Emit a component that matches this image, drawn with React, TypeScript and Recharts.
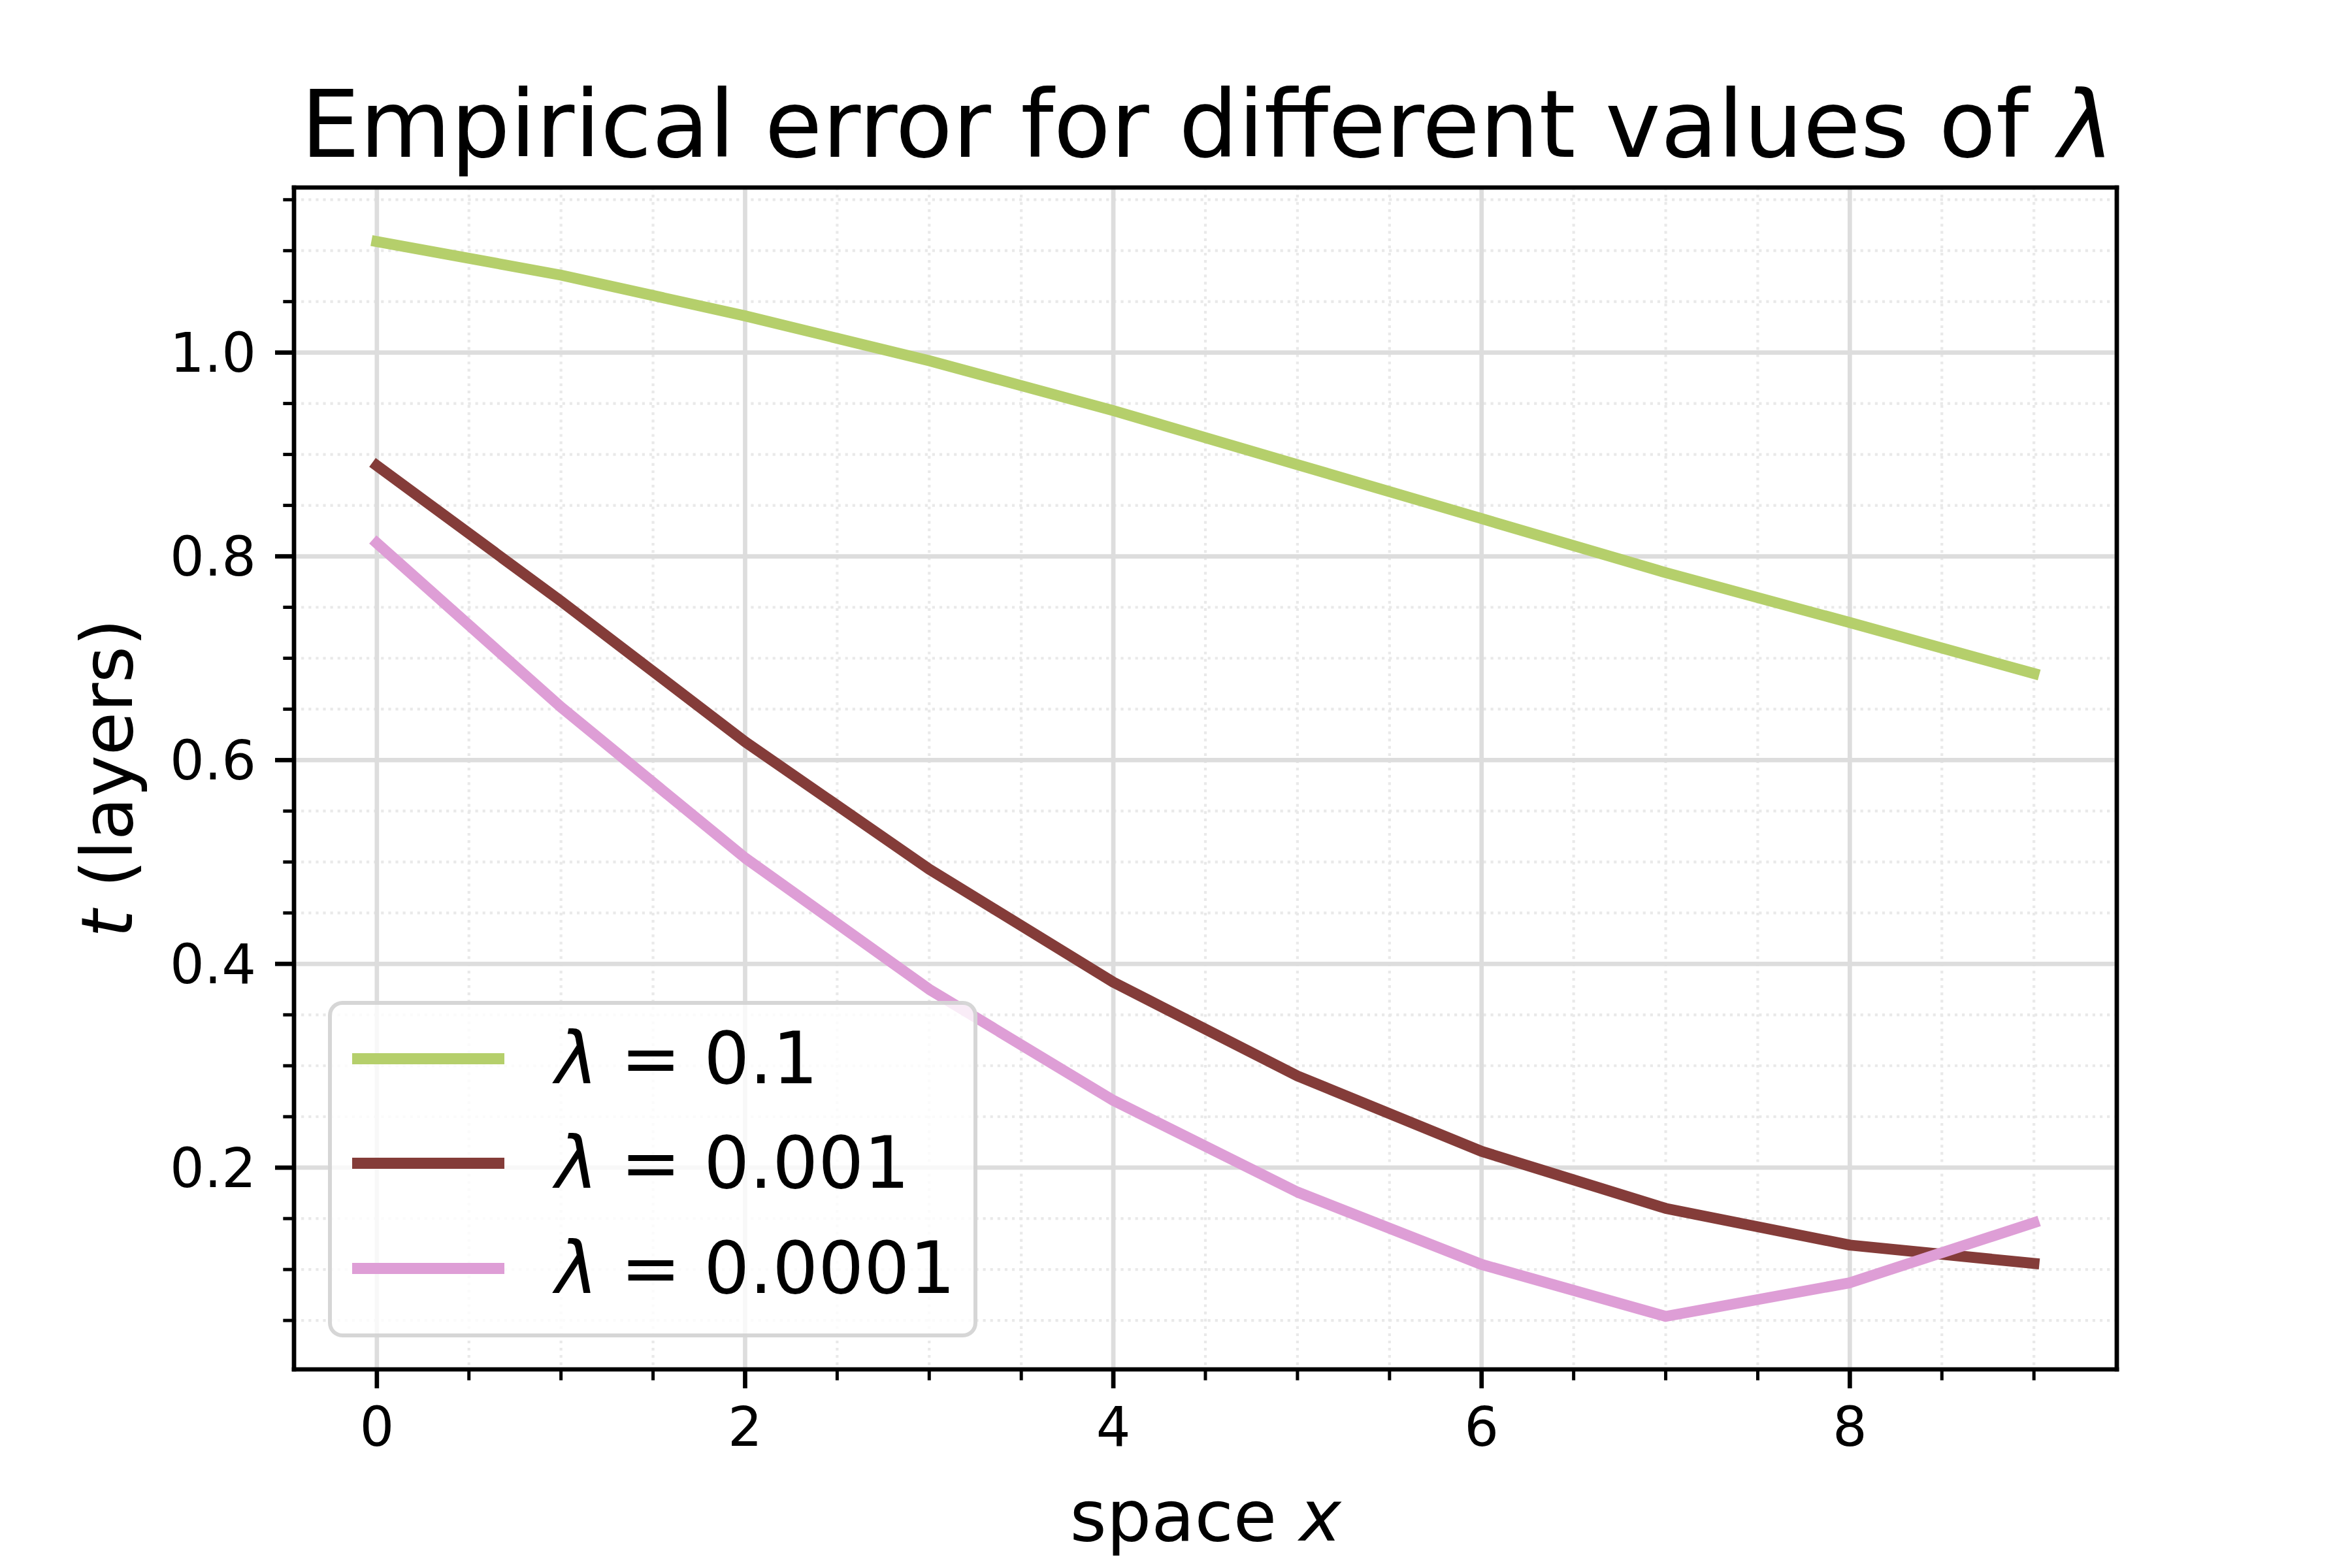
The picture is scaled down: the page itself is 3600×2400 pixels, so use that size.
import { CartesianGrid, Line, LineChart, XAxis, YAxis } from "recharts";

// Canvas matches the reference figure (matplotlib, 600 dpi).
const W = 3600;
const H = 2400;
const FONT = "DejaVu Sans";

const X_VALUES = [0, 1, 2, 3, 4, 5, 6, 7, 8, 9];

// t (layers) per space position, one array per lambda.
const ERR_LAMBDA_0_1 = [1.109, 1.076, 1.036, 0.992, 0.943, 0.89, 0.837, 0.784, 0.735, 0.685];
const ERR_LAMBDA_0_001 = [0.889, 0.756, 0.618, 0.493, 0.382, 0.29, 0.216, 0.16, 0.124, 0.106];
const ERR_LAMBDA_0_0001 = [0.813, 0.652, 0.504, 0.375, 0.266, 0.176, 0.105, 0.054, 0.087, 0.146];

const SERIES_KEYS = ["l1", "l3", "l4"];
const SERIES_LABELS = ["0.1", "0.001", "0.0001"];
const SERIES_COLORS = ["#b5cf6b", "#843c39", "#de9ed6"]; // tab20b

const X_DOMAIN = [-0.45, 9.45];
const Y_DOMAIN = [0.002, 1.162];
const X_MAJOR_TICKS = [0, 2, 4, 6, 8];
const X_MINOR_TICKS = [0.5, 1, 1.5, 2.5, 3, 3.5, 4.5, 5, 5.5, 6.5, 7, 7.5, 8.5, 9];
const Y_MAJOR_TICKS = [0.2, 0.4, 0.6, 0.8, 1.0];
const Y_MINOR_TICKS = [
  0.05, 0.1, 0.15, 0.25, 0.3, 0.35, 0.45, 0.5, 0.55, 0.65, 0.7, 0.75, 0.85, 0.9,
  0.95, 1.05, 1.1, 1.15,
];

const rows = X_VALUES.map((x, i) => ({
  x,
  l1: ERR_LAMBDA_0_1[i],
  l3: ERR_LAMBDA_0_001[i],
  l4: ERR_LAMBDA_0_0001[i],
}));

// axes need a non-zero box or recharts skips drawing them
const THIN = 0.01;

const SPINE = { stroke: "#000", strokeWidth: 6.7, strokeLinecap: "square" as const };
const MAJOR_TICK = { stroke: "#000", strokeWidth: 6.7 };
const MINOR_TICK = { stroke: "#000", strokeWidth: 5 };
const TICK_TEXT = { fill: "#000", fontSize: 83, fontFamily: FONT };

// minor ticks: keep the tick line, draw no label
const NoLabel = () => <g />;

function LegendBox() {
  const rowY = [82, 242, 403];
  return (
    <div
      style={{
        position: "absolute",
        left: 502,
        top: 1532,
        width: 994,
        height: 515,
        boxSizing: "border-box",
        border: "6.7px solid rgba(204,204,204,0.8)",
        borderRadius: 22,
        background: "rgba(255,255,255,0.8)",
        fontFamily: FONT,
        fontSize: 110,
        color: "#000",
      }}
    >
      {SERIES_LABELS.map((label, i) => (
        <div key={label}>
          <div
            style={{
              position: "absolute",
              left: 31,
              top: rowY[i] - 8,
              width: 233,
              height: 16.7,
              background: SERIES_COLORS[i],
            }}
          />
          <div
            style={{
              position: "absolute",
              left: 342,
              top: rowY[i] - 60,
              height: 120,
              lineHeight: "120px",
              whiteSpace: "nowrap",
            }}
          >
            <span style={{ fontStyle: "italic" }}>λ</span> = {label}
          </div>
        </div>
      ))}
    </div>
  );
}

export default function App() {
  return (
    <div
      style={{
        position: "absolute",
        left: 0,
        top: 0,
        width: W,
        height: H,
        background: "#fff",
        fontFamily: FONT,
      }}
    >
      <LineChart
        width={W}
        height={H}
        data={rows}
        margin={{ top: 287, right: 360, bottom: 304, left: 450 }}
      >
        <CartesianGrid
          xAxisId="minor"
          yAxisId="minor"
          stroke="#e9e9e9"
          strokeWidth={4.2}
          strokeDasharray="4.2 6.9"
        />
        <CartesianGrid xAxisId="major" yAxisId="major" stroke="#dddddd" strokeWidth={6.7} />
        <XAxis
          xAxisId="minor"
          type="number"
          dataKey="x"
          domain={X_DOMAIN}
          allowDataOverflow
          ticks={X_MINOR_TICKS}
          interval={0}
          tick={NoLabel}
          tickSize={16.7}
          tickLine={MINOR_TICK}
          axisLine={false}
          height={THIN}
        />
        <XAxis
          xAxisId="major"
          type="number"
          dataKey="x"
          domain={X_DOMAIN}
          allowDataOverflow
          ticks={X_MAJOR_TICKS}
          interval={0}
          tick={TICK_TEXT}
          tickSize={29}
          tickMargin={29}
          tickLine={MAJOR_TICK}
          axisLine={SPINE}
          height={THIN}
        />
        <XAxis
          xAxisId="top"
          orientation="top"
          type="number"
          dataKey="x"
          domain={X_DOMAIN}
          allowDataOverflow
          tick={false}
          tickLine={false}
          axisLine={SPINE}
          height={THIN}
        />
        <YAxis
          yAxisId="minor"
          type="number"
          domain={Y_DOMAIN}
          allowDataOverflow
          ticks={Y_MINOR_TICKS}
          interval={0}
          tick={NoLabel}
          tickSize={16.7}
          tickLine={MINOR_TICK}
          axisLine={false}
          width={THIN}
        />
        <YAxis
          yAxisId="major"
          type="number"
          domain={Y_DOMAIN}
          allowDataOverflow
          ticks={Y_MAJOR_TICKS}
          interval={0}
          tickFormatter={(v: number) => v.toFixed(1)}
          tick={TICK_TEXT}
          tickSize={29}
          tickMargin={29}
          tickLine={MAJOR_TICK}
          axisLine={SPINE}
          width={THIN}
        />
        <YAxis
          yAxisId="right"
          orientation="right"
          type="number"
          domain={Y_DOMAIN}
          allowDataOverflow
          tick={false}
          tickLine={false}
          axisLine={SPINE}
          width={THIN}
        />
        {SERIES_KEYS.map((key, i) => (
          <Line
            key={key}
            xAxisId="major"
            yAxisId="major"
            type="linear"
            dataKey={key}
            stroke={SERIES_COLORS[i]}
            strokeWidth={16.7}
            strokeLinecap="square"
            strokeLinejoin="round"
            dot={false}
            activeDot={false}
            isAnimationActive={false}
          />
        ))}
      </LineChart>

      <svg
        width={W}
        height={H}
        style={{ position: "absolute", left: 0, top: 0, pointerEvents: "none" }}
        fontFamily={FONT}
      >
        <text x={1848} y={240} textAnchor="middle" fontSize={143} fill="#000">
          Empirical error for different values of <tspan fontStyle="italic">λ</tspan>
        </text>
        <text x={1845} y={2358} textAnchor="middle" fontSize={108} fill="#000">
          space <tspan fontStyle="italic">x</tspan>
        </text>
        <text
          transform="translate(202,1191) rotate(-90)"
          textAnchor="middle"
          fontSize={108}
          fill="#000"
        >
          <tspan fontStyle="italic">t</tspan> (layers)
        </text>
      </svg>

      <LegendBox />
    </div>
  );
}
